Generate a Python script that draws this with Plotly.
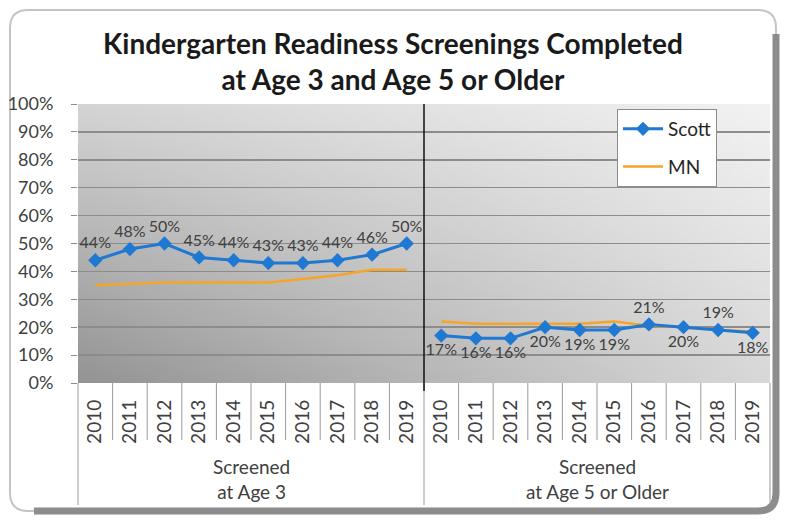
import base64, struct, zlib
import plotly.graph_objects as go

# ---------------- data ----------------
years = ["2010", "2011", "2012", "2013", "2014", "2015", "2016", "2017", "2018", "2019"]
groups = ["Screened<br>at Age 3", "Screened<br>at Age 5 or Older"]
scott_age3 = [44, 48, 50, 45, 44, 43, 43, 44, 46, 50]
scott_age5 = [17, 16, 16, 20, 19, 19, 21, 20, 19, 18]
mn_age3 = [35, 35.5, 36, 36, 36, 36, 37.3, 38.6, 40.6, 40.6]
mn_age5 = [22, 21.2, 21.2, 21.2, 21.2, 22, 20.5, 20, 19, 18.5]
label_pos_age3 = ["top center"] * 10
label_pos_age5 = ["bottom center"] * 6 + ["top center", "bottom center", "top center", "bottom center"]
y_ticks = list(range(0, 101, 10))

# ---------------- geometry helpers (pixel -> paper) ----------------
W, H = 786, 521
L, R, T, B = 78, 16, 104, 138
PW, PH = W - L - R, H - T - B


def px(X):
    return (X - L) / PW


def py(Y):
    return (H - B - Y) / PH


# ---------------- background gradient image ----------------
def gradient_png(w, h, tl, tr, bl, br):
    rows = b""
    for j in range(h):
        v = j / (h - 1)
        row = b"\x00"
        for i in range(w):
            u = i / (w - 1)
            top = tl + (tr - tl) * u
            bot = bl + (br - bl) * u
            g = int(round(top + (bot - top) * v))
            row += bytes((g, g, g))
        rows += row

    def chunk(tag, data):
        c = struct.pack(">I", len(data)) + tag + data
        return c + struct.pack(">I", zlib.crc32(tag + data) & 0xFFFFFFFF)

    png = b"\x89PNG\r\n\x1a\n"
    png += chunk(b"IHDR", struct.pack(">IIBBBBB", w, h, 8, 2, 0, 0, 0))
    png += chunk(b"IDAT", zlib.compress(rows, 9))
    png += chunk(b"IEND", b"")
    return "data:image/png;base64," + base64.b64encode(png).decode()


bg_src = gradient_png(64, 64, 212, 242, 148, 216)

# ---------------- traces ----------------
n = len(years)
x_pos = list(range(n)) + [None] + list(range(n, 2 * n))
scott_y = scott_age3 + [None] + scott_age5
mn_y = mn_age3 + [None] + mn_age5
scott_text = [f"{v}%" for v in scott_age3] + [""] + [f"{v}%" for v in scott_age5]
scott_tpos = label_pos_age3 + ["top center"] + label_pos_age5

BLUE = "#1f78d1"
ORANGE = "#f5a52a"
FONT = "Lato, Calibri, Arial, sans-serif"

fig = go.Figure()
fig.add_trace(go.Scatter(
    x=x_pos, y=mn_y, mode="lines", name="MN",
    line=dict(color=ORANGE, width=2.5),
    legendgroup="mn", legendrank=2, hoverinfo="skip",
))
fig.add_trace(go.Scatter(
    x=x_pos, y=scott_y, mode="lines+markers+text", name="Scott",
    line=dict(color=BLUE, width=3),
    marker=dict(symbol="diamond", size=11, color=BLUE),
    text=scott_text, textposition=scott_tpos,
    textfont=dict(family=FONT, size=16, color="#404040"),
    legendgroup="scott", legendrank=1, hoverinfo="skip",
))

# ---------------- shapes ----------------
shapes = []
for k in range(2 * n + 1):
    long = k % n == 0
    shapes.append(dict(
        type="line", xref="x domain", yref="paper",
        x0=k / (2 * n), x1=k / (2 * n), y0=0, y1=py(505 if long else 440),
        line=dict(color="#9a9a9a", width=1), layer="above",
    ))
shapes.append(dict(
    type="line", xref="x domain", yref="paper",
    x0=0.5, x1=0.5, y0=1, y1=py(391),
    line=dict(color="#111111", width=1.5), layer="above",
))
l0, t0, r0, b0, rad = 10, 10, 776, 511, 18
frame = (
    f"M {px(l0 + rad)} {py(t0)} L {px(r0 - rad)} {py(t0)} "
    f"Q {px(r0)} {py(t0)} {px(r0)} {py(t0 + rad)} "
    f"L {px(r0)} {py(b0 - rad)} Q {px(r0)} {py(b0)} {px(r0 - rad)} {py(b0)} "
    f"L {px(l0 + rad)} {py(b0)} Q {px(l0)} {py(b0)} {px(l0)} {py(b0 - rad)} "
    f"L {px(l0)} {py(t0 + rad)} Q {px(l0)} {py(t0)} {px(l0 + rad)} {py(t0)} Z"
)
shapes.append(dict(type="path", xref="paper", yref="paper", path=frame,
                   line=dict(color="#c4c4c4", width=2), layer="below"))
shadow = (
    f"M {px(r0)} {py(t0 + rad + 6)} L {px(r0)} {py(b0 - rad)} "
    f"Q {px(r0)} {py(b0)} {px(r0 - rad)} {py(b0)} L {px(l0 + rad + 6)} {py(b0)}"
)
shapes.append(dict(type="path", xref="paper", yref="paper", path=shadow,
                   line=dict(color="#8c8c8c", width=7), layer="below"))

# ---------------- annotations (group labels) ----------------
annotations = []
for gi, g in enumerate(groups):
    annotations.append(dict(
        text=g, xref="x domain", yref="paper", x=0.25 + 0.5 * gi, y=py(479),
        showarrow=False, xanchor="center", yanchor="middle",
        font=dict(family=FONT, size=19, color="#404040"),
    ))

fig.update_layout(
    width=W, height=H,
    margin=dict(l=L, r=R, t=T, b=B, autoexpand=False),
    paper_bgcolor="white",
    plot_bgcolor="rgba(0,0,0,0)",
    font=dict(family=FONT, color="#404040"),
    title=dict(
        text="<b>Kindergarten Readiness Screenings Completed<br>at Age 3 and Age 5 or Older</b>",
        x=0.5, xref="container", xanchor="center",
        y=1 - 54 / H, yref="container", yanchor="middle",
        font=dict(family=FONT, size=28, color="#1a1a1a"),
    ),
    xaxis=dict(
        range=[-0.5, 2 * n - 0.5], tickmode="array",
        tickvals=list(range(2 * n)), ticktext=years + years,
        tickangle=-90, ticks="", showgrid=False, zeroline=False,
        showline=False, ticklabelstandoff=12,
        tickfont=dict(family=FONT, size=19, color="#404040"),
        fixedrange=True,
    ),
    yaxis=dict(
        range=[0, 100], tickmode="array", tickvals=y_ticks,
        ticktext=[f"{v}%" for v in y_ticks],
        ticks="outside", ticklen=6, tickcolor="#8c8c8c",
        showgrid=True, gridcolor="#8c8c8c", gridwidth=1.5,
        zeroline=False, showline=False, ticklabelstandoff=14,
        tickfont=dict(family=FONT, size=18, color="#404040"),
        fixedrange=True,
    ),
    legend=dict(
        x=px(617), y=py(109), xanchor="left", yanchor="top",
        bgcolor="white", bordercolor="#8c8c8c", borderwidth=1,
        font=dict(family=FONT, size=19, color="#262626"),
        traceorder="grouped", tracegroupgap=10,
        itemwidth=40,
    ),
    images=[dict(
        source=bg_src, xref="paper", yref="paper", x=0, y=1,
        sizex=1, sizey=1, xanchor="left", yanchor="top",
        sizing="stretch", layer="below",
    )],
    shapes=shapes,
    annotations=annotations,
    showlegend=True,
)

fig.write_html(
    "out.html",
    config={"displayModeBar": False, "staticPlot": True},
    post_script="document.body.style.margin='0';",
)
